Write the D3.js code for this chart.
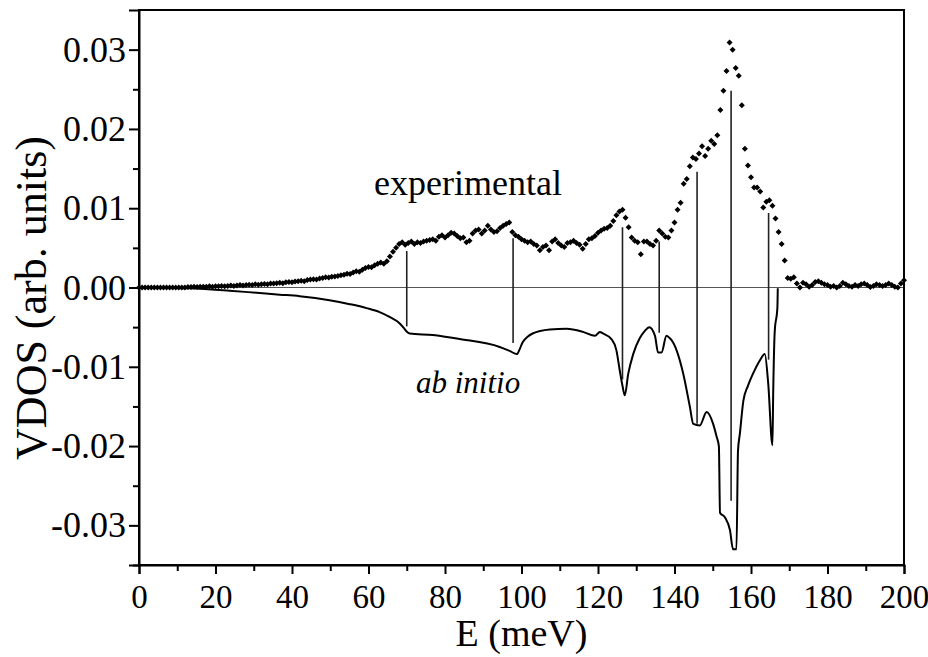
<!DOCTYPE html>
<html>
<head>
<meta charset="UTF-8">
<title>VDOS</title>
<script src="https://cdn.jsdelivr.net/npm/d3@7"></script>
<style>
  body { margin: 0; background: #fff; }
</style>
</head>
<body>
<script>
  // experimental points, E = expStep * i (meV)
  const expStep = 0.8;
  const expVals = [
    0, 0, 0, 0, 0, 0, 0, 0, 0, 0, 0, 0, 0, 0, 0, 0,
    0.00005, 0.00005, 0.0001, 0.00005, 0.0001, 0.0001, 0.0001, 0.00015, 0.0001,
    0.00015, 0.00015, 0.0002, 0.00015, 0.0002, 0.00025, 0.0002, 0.00025, 0.0003, 0.00025,
    0.0003, 0.00035, 0.0003, 0.0004, 0.00035, 0.0004, 0.00045, 0.0004, 0.0005, 0.0005,
    0.00055, 0.0006, 0.00055, 0.00065, 0.0007, 0.00065, 0.00075, 0.0008, 0.00085, 0.0008,
    0.00095, 0.001, 0.00105, 0.001, 0.00115, 0.0012, 0.0013, 0.00125, 0.00135, 0.0014,
    0.00145, 0.00155, 0.0016, 0.00175, 0.0017, 0.0019, 0.00205, 0.002, 0.00225, 0.00245,
    0.0026, 0.00255, 0.0028, 0.003, 0.00315, 0.003, 0.0033, 0.0039, 0.0045, 0.005,
    0.0055, 0.0057, 0.0054, 0.0056, 0.0058, 0.0055, 0.0057, 0.0056, 0.0058, 0.0059,
    0.006, 0.0061, 0.0059, 0.0064, 0.0066, 0.0063, 0.0066, 0.0069, 0.0068, 0.0065,
    0.0062, 0.0063, 0.0057, 0.0059, 0.0068, 0.0072, 0.0073, 0.0068, 0.0072, 0.0078,
    0.0073, 0.007, 0.0071, 0.0075, 0.0078, 0.008, 0.0082, 0.007, 0.0066, 0.0064,
    0.0061, 0.0059, 0.0057, 0.0058, 0.0055, 0.0053, 0.0047, 0.0051, 0.0053, 0.0047,
    0.0058, 0.0061, 0.0056, 0.0053, 0.0051, 0.0056, 0.0057, 0.0059, 0.0056, 0.0054,
    0.0049, 0.0055, 0.0061, 0.0062, 0.0065, 0.0069, 0.0072, 0.0074, 0.0075, 0.0078,
    0.0084, 0.0091, 0.0096, 0.0098, 0.0088, 0.0076, 0.0063, 0.0059, 0.0057, 0.0042,
    0.0058, 0.0058, 0.0055, 0.0053, 0.0059, 0.0072, 0.0068, 0.0064, 0.0063, 0.0072,
    0.0082, 0.0098, 0.0107, 0.0131, 0.0137, 0.0153, 0.0164, 0.0162, 0.0169, 0.0178,
    0.0166, 0.0175, 0.0185, 0.0181, 0.0192, 0.0224, 0.0248, 0.0273, 0.0309, 0.03,
    0.0277, 0.0267, 0.023, 0.0175, 0.0154, 0.0139, 0.0126, 0.0126, 0.0121, 0.0101,
    0.0108, 0.011, 0.0103, 0.0087, 0.007, 0.0055, 0.0034, 0.0012, 0.0011, 0.0013,
    0.0005, 0.0, 0.0006, 0.0004, 0.0001, 0.0003, 0.0007, 0.0008, 0.0006, 0.0004,
    0.0003, 0.0001, 0.0002, 0.0, 0.0002, 0.0006, 0.0004, 0.0002, 0.0001, 0.0003,
    0.0002, 0.0004, 0.0005, 0.0003, 0.00005, 0.0002, 0.0004, 0.0003, 0.0002, 0.0003,
    0.0005, 0.0003, 0.0001, 0.0, 0.0005, 0.0009
  ];

  // ab initio curve
  const abE = [0, 13.1, 23.7, 31.5, 36.8, 42.0, 49.8, 55.1, 59.5, 62.9, 65.5, 68.1, 69.2, 70.1, 70.8,
    76.8, 83.8, 94.3, 96.9, 98.8, 99.5, 100.3, 101.6, 102.9, 107.4, 111.8, 116.1, 119.2, 120.5, 121.3,
    123.5, 124.8, 125.7, 126.4, 127.0, 127.9, 129.2, 130.9, 132.2, 133.4, 134.9, 135.7, 136.6, 137.9,
    138.8, 139.6, 142.3, 144.0, 144.9, 146.6, 148.4, 150.1, 151.0, 151.6, 151.9, 153.2, 154.5, 155.3,
    156.2, 156.6, 157.1, 158.0, 159.2, 160.5, 162.3, 163.6, 164.5, 165.6, 165.8, 166.2, 166.9, 167.0];
  const abV = [0, -0.0001, -0.0004, -0.0007, -0.0009, -0.0011, -0.0016, -0.0021, -0.0026, -0.0031,
    -0.0037, -0.0045, -0.0051, -0.0056, -0.0058,
    -0.006, -0.0065, -0.0075, -0.008, -0.0084, -0.0078, -0.0069, -0.0062, -0.0058, -0.0053, -0.0052,
    -0.0056, -0.0061, -0.0056, -0.0058,
    -0.0065, -0.0079, -0.0105, -0.0124, -0.0136, -0.0109, -0.0084, -0.0064, -0.0055, -0.005, -0.0061,
    -0.0082, -0.0082, -0.0061,
    -0.0064, -0.0069, -0.0109, -0.015, -0.0172, -0.0174, -0.0157, -0.0172, -0.0188, -0.02, -0.0284,
    -0.029, -0.0306, -0.033,
    -0.033, -0.0206, -0.0184, -0.0143, -0.0124, -0.0109, -0.0092, -0.0084, -0.0121, -0.0199, -0.0134,
    -0.0056, -0.0025, -0.0001];

  // vertical sticks linking the two spectra
  const stickE = [70.0, 97.8, 126.4, 136.0, 145.9, 154.8, 164.6];
  const stickTop = [0.0046, 0.0062, 0.0076, 0.0058, 0.0146, 0.0248, 0.0094];
  const stickBottom = [-0.0049, -0.007, -0.0116, -0.0057, -0.0172, -0.0269, -0.0091];

  const FONT = "'Liberation Serif', 'Times New Roman', serif";
  const w = 928, h = 657;
  const mLeft = 139, mRight = 904, mTop = 10, mBottom = 565;

  const x = d3.scaleLinear().domain([0, 200]).range([mLeft, mRight]);
  const y = d3.scaleLinear().domain([-0.035, 0.035]).range([mBottom, mTop]);

  const svg = d3.select("body").append("svg")
    .attr("width", w)
    .attr("height", h);

  // zero line
  svg.append("line")
    .attr("x1", x(0)).attr("x2", x(200))
    .attr("y1", y(0)).attr("y2", y(0))
    .attr("stroke", "#555").attr("stroke-width", 1);

  // sticks
  svg.selectAll("line.stick")
    .data(stickE)
    .enter()
    .append("line")
    .attr("class", "stick")
    .attr("x1", d => x(d)).attr("x2", d => x(d))
    .attr("y1", (d, i) => y(stickTop[i]))
    .attr("y2", (d, i) => y(stickBottom[i]))
    .attr("stroke", "#222").attr("stroke-width", 1.6);

  // ab initio curve
  const line = d3.line()
    .x((d, i) => x(abE[i]))
    .y(d => y(d))
    .curve(d3.curveMonotoneX);

  svg.append("path")
    .attr("d", line(abV))
    .attr("fill", "none")
    .attr("stroke", "#000")
    .attr("stroke-width", 2);

  // experimental diamonds
  const diamond = d3.symbol().type(d3.symbolSquare).size(18);
  svg.selectAll("path.pt")
    .data(expVals)
    .enter()
    .append("path")
    .attr("class", "pt")
    .attr("d", diamond)
    .attr("transform", (d, i) => "translate(" + x(i * expStep) + "," + y(d) + ") rotate(45)")
    .attr("fill", "#000");

  // frame
  svg.append("rect")
    .attr("x", mLeft).attr("y", mTop)
    .attr("width", mRight - mLeft).attr("height", mBottom - mTop)
    .attr("fill", "none").attr("stroke", "#000").attr("stroke-width", 2);

  // y axis
  const yAxis = d3.axisLeft(y)
    .tickValues([-0.03, -0.02, -0.01, 0, 0.01, 0.02, 0.03])
    .tickFormat(d => d.toFixed(2).replace("-0.00", "0.00"))
    .tickSize(10).tickPadding(3);
  const gy = svg.append("g").attr("transform", "translate(" + mLeft + ",0)").call(yAxis);

  svg.append("g").attr("transform", "translate(" + mLeft + ",0)")
    .call(d3.axisLeft(y).tickValues([-0.035, -0.025, -0.015, -0.005, 0.005, 0.015, 0.025]).tickSize(6).tickFormat(""))
    .select(".domain").remove();

  // x axis
  const xAxis = d3.axisBottom(x)
    .tickValues(d3.range(0, 201, 20))
    .tickSize(9).tickPadding(11);
  const gx = svg.append("g").attr("transform", "translate(0," + mBottom + ")").call(xAxis);

  svg.append("g").attr("transform", "translate(0," + mBottom + ")")
    .call(d3.axisBottom(x).tickValues(d3.range(10, 200, 20)).tickSize(6).tickFormat(""))
    .select(".domain").remove();

  svg.selectAll(".domain").attr("stroke-width", 2);
  svg.selectAll(".tick line").attr("stroke", "#000").attr("stroke-width", 2);
  gy.selectAll("text").style("font-family", FONT).style("font-size", "36px");
  gx.selectAll("text").style("font-family", FONT).style("font-size", "33px");

  // labels
  svg.append("text")
    .attr("x", x(100)).attr("y", 646)
    .attr("text-anchor", "middle")
    .style("font-family", FONT)
    .style("font-size", "38px")
    .text("E (meV)");

  svg.append("text")
    .attr("transform", "translate(46,298) rotate(-90)")
    .attr("text-anchor", "middle")
    .style("font-family", FONT)
    .style("font-size", "44px")
    .text("VDOS (arb. units)");

  svg.append("text")
    .attr("x", 374).attr("y", 195)
    .style("font-family", FONT)
    .style("font-size", "36px")
    .text("experimental");

  svg.append("text")
    .attr("x", 416).attr("y", 393)
    .style("font-family", FONT)
    .style("font-size", "31px")
    .style("font-style", "italic")
    .text("ab initio");
</script>
</body>
</html>
